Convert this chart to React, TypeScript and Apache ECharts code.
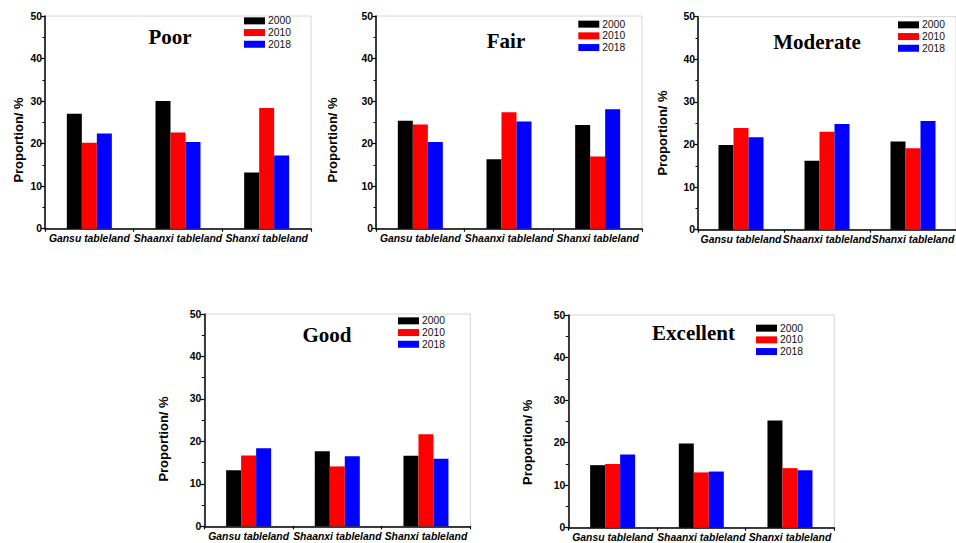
import React, { useEffect, useRef } from "react";
import * as echarts from "echarts";

const categories = ["Gansu tableland", "Shaanxi tableland", "Shanxi tableland"];
const years = ["2000", "2010", "2018"];
const panelTitles = ["Poor", "Fair", "Moderate", "Good", "Excellent"];
const yTickMax = 50;
const yTickStep = 10;
const yAxisName = "Proportion/ %";

const poor2000 = [27.0, 30.0, 13.2];
const poor2010 = [20.2, 22.6, 28.4];
const poor2018 = [22.4, 20.4, 17.2];

const fair2000 = [25.4, 16.3, 24.4];
const fair2010 = [24.5, 27.4, 17.0];
const fair2018 = [20.4, 25.2, 28.1];

const moderate2000 = [19.9, 16.2, 20.7];
const moderate2010 = [23.9, 23.0, 19.1];
const moderate2018 = [21.7, 24.8, 25.5];

const good2000 = [13.2, 17.7, 16.6];
const good2010 = [16.7, 14.1, 21.7];
const good2018 = [18.4, 16.5, 15.9];

const excellent2000 = [14.7, 19.8, 25.2];
const excellent2010 = [15.0, 13.0, 14.0];
const excellent2018 = [17.2, 13.2, 13.5];

const panelData = [
  [poor2000, poor2010, poor2018],
  [fair2000, fair2010, fair2018],
  [moderate2000, moderate2010, moderate2018],
  [good2000, good2010, good2018],
  [excellent2000, excellent2010, excellent2018],
];

const yearColors = ["#000000", "#ff0000", "#0000ff"];

// layout (pixels)
const grids = [
  { left: 45, top: 16, width: 266, height: 212.7 },
  { left: 376, top: 16, width: 266, height: 212.7 },
  { left: 698, top: 16.7, width: 266, height: 213 },
  { left: 204.3, top: 314, width: 266, height: 212.3 },
  { left: 568.3, top: 315, width: 266, height: 212.7 },
];
const titlePos = [
  { x: 170, y: 26 },
  { x: 506, y: 30 },
  { x: 817, y: 31 },
  { x: 327, y: 324 },
  { x: 693.5, y: 322 },
];
const legendPos = [
  { x: 244, y: 15 },
  { x: 578.3, y: 18.3 },
  { x: 898, y: 19 },
  { x: 398, y: 315 },
  { x: 756, y: 322.3 },
];
const namePos = [
  { x: 18, y: 140 },
  { x: 332.3, y: 140 },
  { x: 662, y: 133 },
  { x: 163, y: 439 },
  { x: 527, y: 442.3 },
];

const SANS = '"Liberation Sans", Arial, sans-serif';
const SERIF = '"Liberation Serif", "Times New Roman", serif';

export default function App() {
  const ref = useRef<HTMLDivElement>(null);

  useEffect(() => {
    if (!ref.current) return;
    const chart = echarts.init(ref.current, null, { renderer: "svg" });

    const xAxis = grids.map((_, i) => ({
      type: "category",
      gridIndex: i,
      data: categories,
      axisLine: { lineStyle: { color: "#000", width: 1.5 } },
      axisTick: { show: true, length: 3, inside: false, lineStyle: { color: "#000", width: 1.2 } },
      axisLabel: {
        interval: 0,
        margin: 5,
        color: "#000",
        fontFamily: SANS,
        fontSize: 10.4,
        fontWeight: "bold",
        fontStyle: "italic",
      },
      splitLine: { show: false },
    }));

    const yAxis = grids.map((_, i) => ({
      type: "value",
      gridIndex: i,
      min: 0,
      max: yTickMax,
      interval: yTickStep,
      axisLine: { show: true, lineStyle: { color: "#000", width: 1.5 } },
      axisTick: { show: true, length: 4, inside: false, lineStyle: { color: "#000", width: 1.2 } },
      minorTick: { show: true, splitNumber: 2, length: 2.5, lineStyle: { color: "#000", width: 1 } },
      axisLabel: {
        margin: 3,
        color: "#000",
        fontFamily: SANS,
        fontSize: 10.4,
        fontWeight: "bold",
      },
      splitLine: { show: false },
    }));

    const series: any[] = [];
    panelData.forEach((sets, i) => {
      sets.forEach((vals, k) => {
        series.push({
          type: "bar",
          name: years[k],
          xAxisIndex: i,
          yAxisIndex: i,
          data: vals,
          barWidth: 15,
          barGap: "0%",
          itemStyle: { color: yearColors[k] },
        });
      });
    });

    const option: any = {
      animation: false,
      backgroundColor: "#ffffff",
      color: yearColors,
      grid: grids.map((g) => ({
        ...g,
        show: true,
        borderColor: "#d6d6d6",
        borderWidth: 1,
        backgroundColor: "transparent",
        containLabel: false,
      })),
      title: panelTitles.map((t, i) => ({
        text: t,
        left: titlePos[i].x,
        top: titlePos[i].y,
        textAlign: "center",
        padding: 0,
        textStyle: {
          fontFamily: SERIF,
          fontSize: 21,
          fontWeight: "bold",
          color: "#000",
        },
      })),
      legend: legendPos.map((p) => ({
        data: years,
        orient: "vertical",
        left: p.x,
        top: p.y,
        padding: 0,
        itemGap: 0,
        itemWidth: 21,
        itemHeight: 7,
        icon: "rect",
        selectedMode: false,
        textStyle: {
          fontFamily: SANS,
          fontSize: 10.3,
          color: "#111",
          lineHeight: 11.7,
          padding: [0, 0, 0, -2],
        },
      })),
      xAxis,
      yAxis,
      series,
      graphic: namePos.map((p) => ({
        type: "text",
        x: p.x,
        y: p.y,
        rotation: Math.PI / 2,
        style: {
          text: yAxisName,
          fontFamily: SANS,
          fontSize: 13,
          fontWeight: "bold",
          fill: "#000",
          align: "center",
          verticalAlign: "middle",
        },
      })),
    };

    chart.setOption(option);
    return () => chart.dispose();
  }, []);

  return (
    <div
      ref={ref}
      style={{ position: "fixed", left: 0, top: 0, width: 956, height: 543, background: "#fff" }}
    />
  );
}
